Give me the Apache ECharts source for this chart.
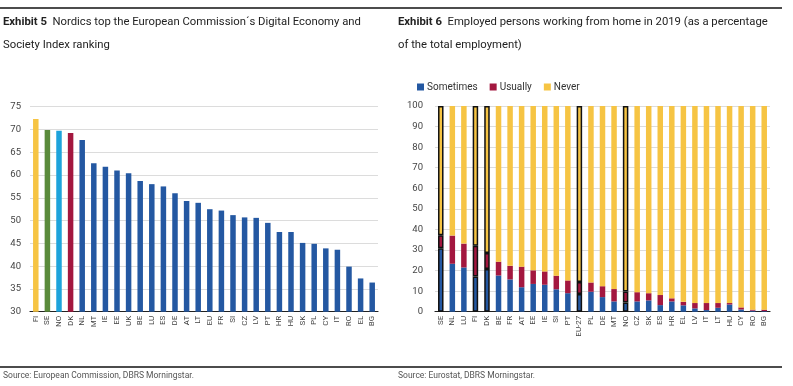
<!DOCTYPE html>
<html>
<head>
<meta charset="utf-8">
<script src="https://cdn.jsdelivr.net/npm/echarts@6/dist/echarts.min.js"></script>
<style>
html,body{margin:0;padding:0;background:#fff;}
#c{width:793px;height:386px;}
</style>
</head>
<body>
<div id="c"></div>
<script>
// ---- Exhibit 5 data ----
const desiCountries = ['FI','SE','NO','DK','NL','MT','IE','EE','UK','BE','LU','ES','DE','AT','LT','EU','FR','SI','CZ','LV','PT','HR','HU','SK','PL','CY','IT','RO','EL','BG'];
const desiScores = [72.3,69.9,69.7,69.2,67.7,62.6,61.8,61.0,60.4,58.7,58.0,57.5,56.0,54.3,53.9,52.5,52.2,51.2,50.7,50.6,49.5,47.5,47.5,45.1,44.9,43.9,43.6,39.9,37.3,36.4];
const desiTicks = [30,35,40,45,50,55,60,65,70,75];

// ---- Exhibit 6 data ----
const wfhCountries = ['SE','NL','LU','FI','DK','BE','FR','AT','EE','IE','SI','PT','EU-27','PL','DE','MT','NO','CZ','SK','ES','HR','EL','LV','IT','LT','HU','CY','RO','BG'];
const wfhSometimes = [30.8,23.3,21.5,17.1,20.7,17.6,15.7,11.9,13.5,13.1,10.9,9.0,8.6,9.7,7.1,5.0,4.5,5.0,5.5,3.2,5.0,3.1,1.6,0.8,1.9,3.5,1.1,0.5,0.3];
const wfhUsually   = [6.4,13.7,11.6,15.0,7.8,6.7,6.6,10.0,6.6,6.5,6.6,6.2,5.8,4.5,5.3,6.0,5.3,4.5,3.5,4.9,1.5,1.7,2.6,3.4,2.3,0.7,1.0,0.5,0.7];
const wfhNever = wfhSometimes.map((s,i)=>+(100 - s - wfhUsually[i]).toFixed(1));
const wfhTicks = [0,10,20,30,40,50,60,70,80,90,100];

// ---- styles ----
const FONT = '"Liberation Sans Narrow","Roboto","Liberation Sans",sans-serif';
const BLUE = '#2458A2', RED = '#A3173F', YELLOW = '#F6C443';
const desiHighlight = {FI:'#F6C443', SE:'#5A8B3B', NO:'#1EA3DB', DK:'#A3173F'};
const outlined = ['SE','FI','DK','EU-27','NO'];

function segData(vals, color){
  return vals.map((v,i)=>{
    const o = {value:v};
    if (outlined.includes(wfhCountries[i])) o.itemStyle = {color:color, borderColor:'#111', borderWidth:1.5};
    return o;
  });
}

const chart = echarts.init(document.getElementById('c'), null, {renderer:'canvas'});
const axisLabelY = {fontFamily:FONT, fontSize:9.5, color:'#444'};
const axisLabelX = {fontFamily:FONT, fontSize:8, color:'#444', rotate:90, interval:0, margin:4};
const TFS = 11.3;
const titleStyle = {fontFamily:FONT, fontSize:TFS, fontWeight:'normal', color:'#222', lineHeight:23,
  rich:{b:{fontFamily:FONT, fontSize:TFS, fontWeight:'bold', color:'#222', lineHeight:23}}};

chart.setOption({
  animation:false,
  textStyle:{fontFamily:FONT},
  title:[
    {left:3, top:11, padding:0, text:'{b|Exhibit 5}  Nordics top the European Commission´s Digital Economy and\nSociety Index ranking',
     textStyle:titleStyle},
    {left:398, top:11, padding:0, text:'{b|Exhibit 6}  Employed persons working from home in 2019 (as a percentage\nof the total employment)',
     textStyle:titleStyle},
    {left:3, top:371, padding:0, text:'Source: European Commission, DBRS Morningstar.', textStyle:{fontFamily:FONT, fontSize:8.5, fontWeight:'normal', color:'#555'}},
    {left:398, top:371, padding:0, text:'Source: Eurostat, DBRS Morningstar.', textStyle:{fontFamily:FONT, fontSize:8.5, fontWeight:'normal', color:'#555'}}
  ],
  graphic:[
    {type:'line', shape:{x1:0,y1:8,x2:782,y2:8}, style:{stroke:'#111', lineWidth:1.5}},
    {type:'line', shape:{x1:0,y1:367,x2:782,y2:367}, style:{stroke:'#111', lineWidth:1.5}}
  ],
  legend:{
    left:412, top:77, itemWidth:7, itemHeight:7, itemGap:12,
    icon:'rect',
    textStyle:{fontFamily:FONT, fontSize:10, color:'#333', padding:[0,0,0,-2]},
    data:['Sometimes','Usually','Never']
  },
  grid:[
    {left:30, right:415, top:106.7, bottom:74.3, containLabel:false},
    {left:435, right:23, top:106, bottom:74.3, containLabel:false}
  ],
  xAxis:[
    {type:'category', gridIndex:0, data:desiCountries,
     axisLine:{lineStyle:{color:'#222', width:1.2}}, axisTick:{show:false}, axisLabel:axisLabelX},
    {type:'category', gridIndex:1, data:wfhCountries,
     axisLine:{lineStyle:{color:'#222', width:1.2}}, axisTick:{show:false}, axisLabel:axisLabelX}
  ],
  yAxis:[
    {type:'value', gridIndex:0, min:desiTicks[0], max:desiTicks[desiTicks.length-1], interval:5,
     axisLine:{show:false}, axisTick:{show:false},
     axisLabel:Object.assign({margin:9}, axisLabelY),
     splitLine:{lineStyle:{color:'#dcdcdc', width:1}}},
    {type:'value', gridIndex:1, min:wfhTicks[0], max:wfhTicks[wfhTicks.length-1], interval:10,
     axisLine:{show:false}, axisTick:{show:false},
     axisLabel:Object.assign({margin:12}, axisLabelY),
     splitLine:{lineStyle:{color:'#dcdcdc', width:1}}}
  ],
  series:[
    {type:'bar', xAxisIndex:0, yAxisIndex:0, barWidth:5.5,
     data:desiScores.map((v,i)=>({value:v, itemStyle:{color: desiHighlight[desiCountries[i]] || BLUE}}))},
    {name:'Sometimes', type:'bar', stack:'w', xAxisIndex:1, yAxisIndex:1, barWidth:5.5,
     itemStyle:{color:BLUE}, data:segData(wfhSometimes, BLUE)},
    {name:'Usually', type:'bar', stack:'w', xAxisIndex:1, yAxisIndex:1, barWidth:5.5,
     itemStyle:{color:RED}, data:segData(wfhUsually, RED)},
    {name:'Never', type:'bar', stack:'w', xAxisIndex:1, yAxisIndex:1, barWidth:5.5,
     itemStyle:{color:YELLOW}, data:segData(wfhNever, YELLOW)}
  ]
});
</script>
</body>
</html>
